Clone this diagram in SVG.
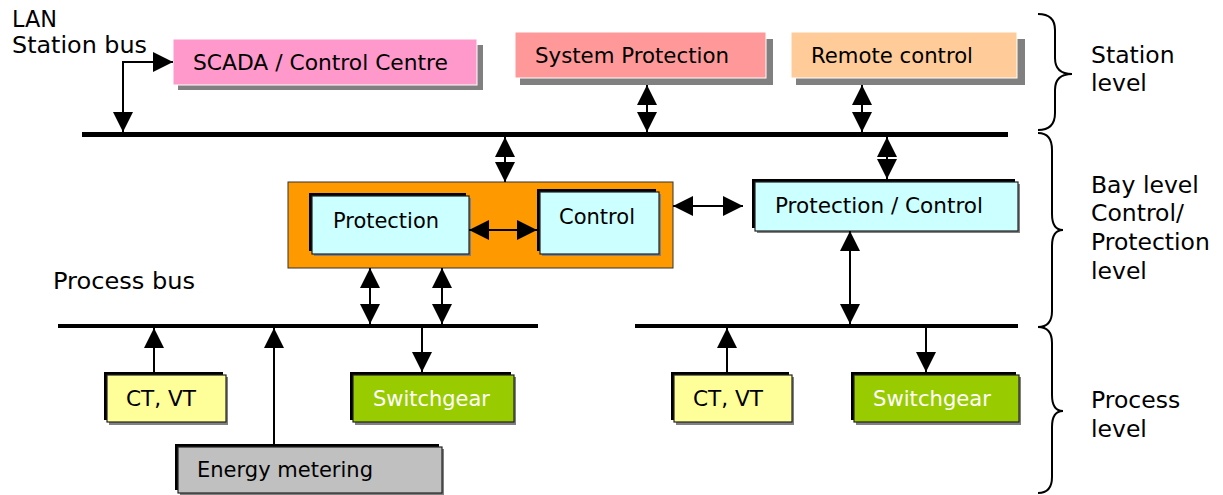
<svg xmlns="http://www.w3.org/2000/svg" width="1223" height="495" viewBox="0 0 1223 495">
<style>
text{font-family:"DejaVu Sans","Liberation Sans",sans-serif;fill:#000}
.bl{font-size:21.5px}
.ol{font-size:23.5px}
.sh{fill:#808080}
.blk{fill:#000}
.bx{stroke:#222;stroke-width:1.2}
.bus{stroke:#000;fill:none}
.c{stroke:#000;stroke-width:2;fill:none}
.br{stroke:#000;stroke-width:2;fill:none}
</style>
<defs>
<marker id="ah" viewBox="0 0 20 20" refX="20" refY="10" markerWidth="20" markerHeight="20" markerUnits="userSpaceOnUse" orient="auto-start-reverse">
<path d="M0,0 L20,10 L0,20 z" fill="#000"/>
</marker>
</defs>
<rect width="1223" height="495" fill="#fff"/>

<g id="labels">
<text class="ol" x="12" y="27" textLength="45" lengthAdjust="spacingAndGlyphs">LAN</text>
<text class="ol" x="12" y="53" textLength="135" lengthAdjust="spacingAndGlyphs">Station bus</text>
<text class="ol" x="53" y="289" textLength="142" lengthAdjust="spacingAndGlyphs">Process bus</text>
<text class="ol" x="1091" y="63">Station</text>
<text class="ol" x="1091" y="91">level</text>
<text class="ol" x="1091" y="193">Bay level</text>
<text class="ol" x="1091" y="221">Control/</text>
<text class="ol" x="1091" y="250">Protection</text>
<text class="ol" x="1091" y="279">level</text>
<text class="ol" x="1091" y="408">Process</text>
<text class="ol" x="1091" y="437">level</text>
</g>

<g id="braces">
<path class="br" d="M1038,14 Q1055,14 1055,30 L1055,58 Q1055,74 1072,74 Q1055,74 1055,90 L1055,113 Q1055,130 1038,130"/>
<path class="br" d="M1038,133 Q1052,133 1052,150 L1052,214 Q1052,230 1063,230 Q1052,230 1052,246 L1052,311 Q1052,327 1038,327"/>
<path class="br" d="M1038,327 Q1052,327 1052,343 L1052,395 Q1052,411 1063,411 Q1052,411 1052,427 L1052,477 Q1052,493 1038,493"/>
</g>

<g id="buses">
<line class="bus" x1="82" y1="134.5" x2="1008" y2="134.5" stroke-width="5"/>
<line class="bus" x1="58" y1="326" x2="538" y2="326" stroke-width="4"/>
<line class="bus" x1="635" y1="326" x2="1018" y2="326" stroke-width="4"/>
</g>

<g id="scada">
<rect class="sh" x="178" y="45" width="305" height="45"/>
<rect x="173" y="39" width="304" height="46" fill="#FF99CC" stroke="#fff" stroke-width="1"/>
<text class="bl" x="193" y="70" textLength="255" lengthAdjust="spacingAndGlyphs">SCADA / Control Centre</text>
</g>
<g id="sysprot">
<rect class="sh" x="520" y="39" width="253" height="46"/>
<rect x="515" y="32" width="251" height="46" fill="#FF9999" stroke="#fff" stroke-width="1"/>
<text class="bl" x="535" y="63" textLength="194" lengthAdjust="spacingAndGlyphs">System Protection</text>
</g>
<g id="remote">
<rect class="sh" x="796" y="39" width="229" height="46"/>
<rect x="791" y="32" width="226" height="46" fill="#FFCC99" stroke="#fff" stroke-width="1"/>
<text class="bl" x="811" y="63" textLength="162" lengthAdjust="spacingAndGlyphs">Remote control</text>
</g>

<g id="bay">
<rect x="288" y="182" width="385" height="86" fill="#FF9900" stroke="#333" stroke-width="1"/>
</g>
<g id="protection">
<rect class="sh" x="314" y="198" width="157" height="58"/>
<rect class="blk" x="309" y="193" width="157" height="58"/>
<rect class="bx" x="312" y="196" width="157" height="58" fill="#CCFFFF"/>
<text class="bl" x="333" y="228" textLength="106" lengthAdjust="spacingAndGlyphs">Protection</text>
</g>
<g id="control">
<rect class="sh" x="542" y="194" width="119" height="62"/>
<rect class="blk" x="537" y="189" width="119" height="62"/>
<rect class="bx" x="540" y="192" width="119" height="62" fill="#CCFFFF"/>
<text class="bl" x="559" y="224" textLength="76" lengthAdjust="spacingAndGlyphs">Control</text>
</g>
<g id="protctrl">
<rect class="sh" x="757" y="184" width="263" height="49"/>
<rect class="blk" x="752" y="179" width="263" height="49"/>
<rect class="bx" x="755" y="182" width="263" height="49" fill="#CCFFFF"/>
<text class="bl" x="775" y="213" textLength="208" lengthAdjust="spacingAndGlyphs">Protection / Control</text>
</g>

<g id="ctvt1">
<rect class="sh" x="109" y="377" width="119" height="48"/>
<rect class="blk" x="104" y="372" width="119" height="48"/>
<rect class="bx" x="107" y="375" width="119" height="47" fill="#FFFF99"/>
<text class="bl" x="126" y="406" textLength="70" lengthAdjust="spacingAndGlyphs">CT, VT</text>
</g>
<g id="switch1">
<rect class="sh" x="355" y="377" width="161" height="48"/>
<rect class="blk" x="350" y="372" width="161" height="48"/>
<rect class="bx" x="353" y="375" width="161" height="47" fill="#99CC00"/>
<text class="bl" x="373" y="406" style="fill:#fff" textLength="117" lengthAdjust="spacingAndGlyphs">Switchgear</text>
</g>
<g id="energy">
<rect class="sh" x="180" y="449" width="264" height="46"/>
<rect class="blk" x="175" y="444" width="264" height="46"/>
<rect class="bx" x="178" y="447" width="264" height="46" fill="#C0C0C0"/>
<text class="bl" x="197" y="477" textLength="176" lengthAdjust="spacingAndGlyphs">Energy metering</text>
</g>
<g id="ctvt2">
<rect class="sh" x="676" y="377" width="118" height="48"/>
<rect class="blk" x="671" y="372" width="118" height="48"/>
<rect class="bx" x="674" y="375" width="118" height="47" fill="#FFFF99"/>
<text class="bl" x="693" y="406" textLength="70" lengthAdjust="spacingAndGlyphs">CT, VT</text>
</g>
<g id="switch2">
<rect class="sh" x="856" y="377" width="165" height="48"/>
<rect class="blk" x="851" y="372" width="165" height="48"/>
<rect class="bx" x="854" y="375" width="165" height="47" fill="#99CC00"/>
<text class="bl" x="873" y="406" style="fill:#fff" textLength="118" lengthAdjust="spacingAndGlyphs">Switchgear</text>
</g>

<g id="connectors">
<polyline class="c" points="123,132 123,62 173,62" marker-start="url(#ah)" marker-end="url(#ah)"/>
<line class="c" x1="647" y1="85" x2="647" y2="132" marker-start="url(#ah)" marker-end="url(#ah)"/>
<line class="c" x1="862" y1="85" x2="862" y2="132" marker-start="url(#ah)" marker-end="url(#ah)"/>
<line class="c" x1="505" y1="137" x2="505" y2="182" marker-start="url(#ah)" marker-end="url(#ah)"/>
<line class="c" x1="887" y1="137" x2="887" y2="179" marker-start="url(#ah)" marker-end="url(#ah)"/>
<line class="c" x1="469" y1="230" x2="537" y2="230" marker-start="url(#ah)" marker-end="url(#ah)"/>
<line class="c" x1="673" y1="206" x2="743" y2="206" marker-start="url(#ah)" marker-end="url(#ah)"/>
<line class="c" x1="850" y1="231" x2="850" y2="324" marker-start="url(#ah)" marker-end="url(#ah)"/>
<line class="c" x1="370" y1="268" x2="370" y2="324" marker-start="url(#ah)" marker-end="url(#ah)"/>
<line class="c" x1="442" y1="268" x2="442" y2="324" marker-start="url(#ah)" marker-end="url(#ah)"/>
<line class="c" x1="154" y1="372" x2="154" y2="328" marker-end="url(#ah)"/>
<line class="c" x1="274" y1="444" x2="274" y2="328" marker-end="url(#ah)"/>
<line class="c" x1="422" y1="328" x2="422" y2="372" marker-end="url(#ah)"/>
<line class="c" x1="727" y1="372" x2="727" y2="328" marker-end="url(#ah)"/>
<line class="c" x1="926" y1="328" x2="926" y2="372" marker-end="url(#ah)"/>
</g>
</svg>
